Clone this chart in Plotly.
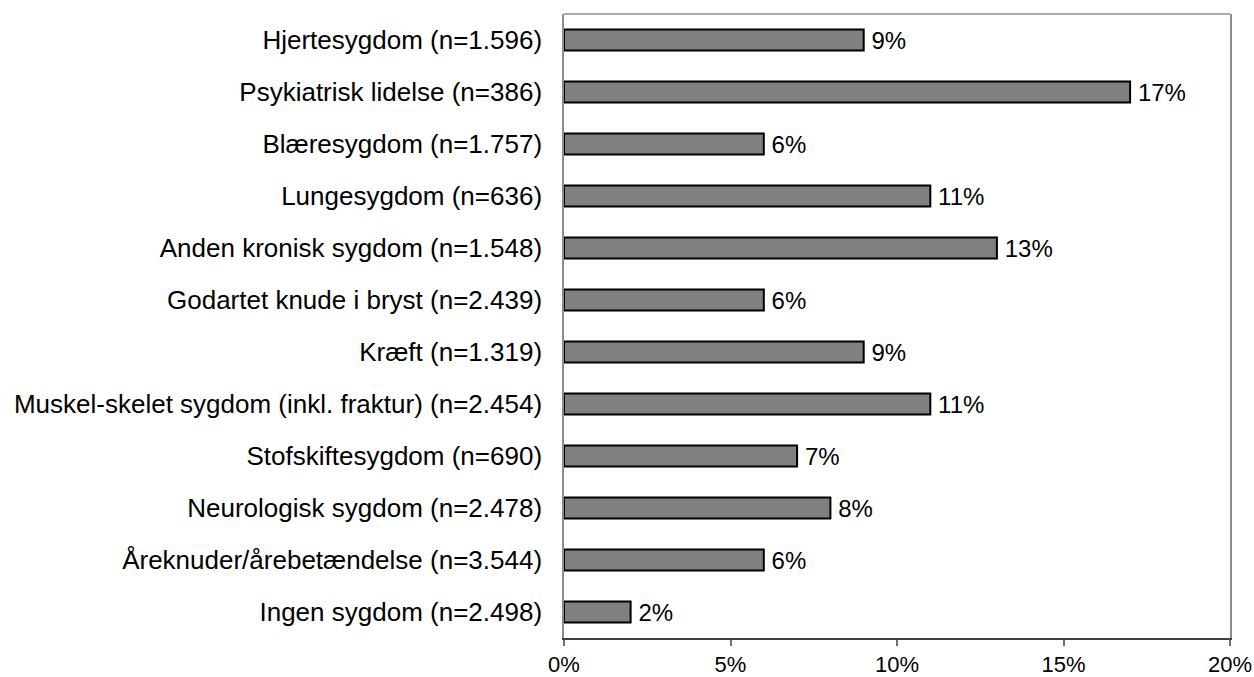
import plotly.graph_objects as go

categories = [
    "Hjertesygdom (n=1.596)",
    "Psykiatrisk lidelse (n=386)",
    "Blæresygdom (n=1.757)",
    "Lungesygdom (n=636)",
    "Anden kronisk sygdom (n=1.548)",
    "Godartet knude i bryst (n=2.439)",
    "Kræft (n=1.319)",
    "Muskel-skelet sygdom (inkl. fraktur) (n=2.454)",
    "Stofskiftesygdom (n=690)",
    "Neurologisk sygdom (n=2.478)",
    "Åreknuder/årebetændelse (n=3.544)",
    "Ingen sygdom (n=2.498)",
]
values = [9, 17, 6, 11, 13, 6, 9, 11, 7, 8, 6, 2]
x_ticks = [0, 5, 10, 15, 20]
x_tick_labels = ["0%", "5%", "10%", "15%", "20%"]

FONT = "Liberation Sans, Arial, sans-serif"
FRAME = "#8c8c8c"

fig = go.Figure(
    go.Bar(
        x=values,
        y=categories,
        orientation="h",
        marker=dict(color="#808080", line=dict(color="#000000", width=2)),
        # thin space keeps the value label a little clear of the bar end
        text=[f"\u2009{v}%" for v in values],
        textposition="outside",
        constraintext="none",
        textfont=dict(family=FONT, size=24, color="#000000"),
        cliponaxis=False,
    )
)

fig.update_layout(
    width=1254,
    height=677,
    margin=dict(l=564, r=24, t=14, b=39, autoexpand=False),
    paper_bgcolor="white",
    plot_bgcolor="white",
    showlegend=False,
    bargap=0.6,
    font=dict(family=FONT, size=24, color="#000000"),
    # top edge of the plot frame
    shapes=[
        dict(
            type="line", xref="paper", yref="paper",
            x0=0, x1=1, y0=1, y1=1,
            line=dict(color=FRAME, width=1.5),
        )
    ],
)

fig.update_xaxes(
    range=[0, 20],
    tickvals=x_ticks,
    ticktext=x_tick_labels,
    showgrid=False,
    zeroline=False,
    showline=True,
    linecolor="#404040",
    linewidth=1.5,
    ticks="outside",
    ticklen=6,
    tickcolor="#707070",
    tickwidth=1.5,
    ticklabelstandoff=0,
    automargin=False,
    tickfont=dict(family=FONT, size=22, color="#000000"),
)

fig.update_yaxes(
    autorange="reversed",
    showgrid=False,
    zeroline=False,
    showline=True,
    linecolor=FRAME,
    linewidth=1.5,
    mirror=True,
    ticks="",
    ticklabelstandoff=15,
    automargin=False,
    tickfont=dict(family=FONT, size=26, color="#000000"),
)

fig.write_html("out.html")
